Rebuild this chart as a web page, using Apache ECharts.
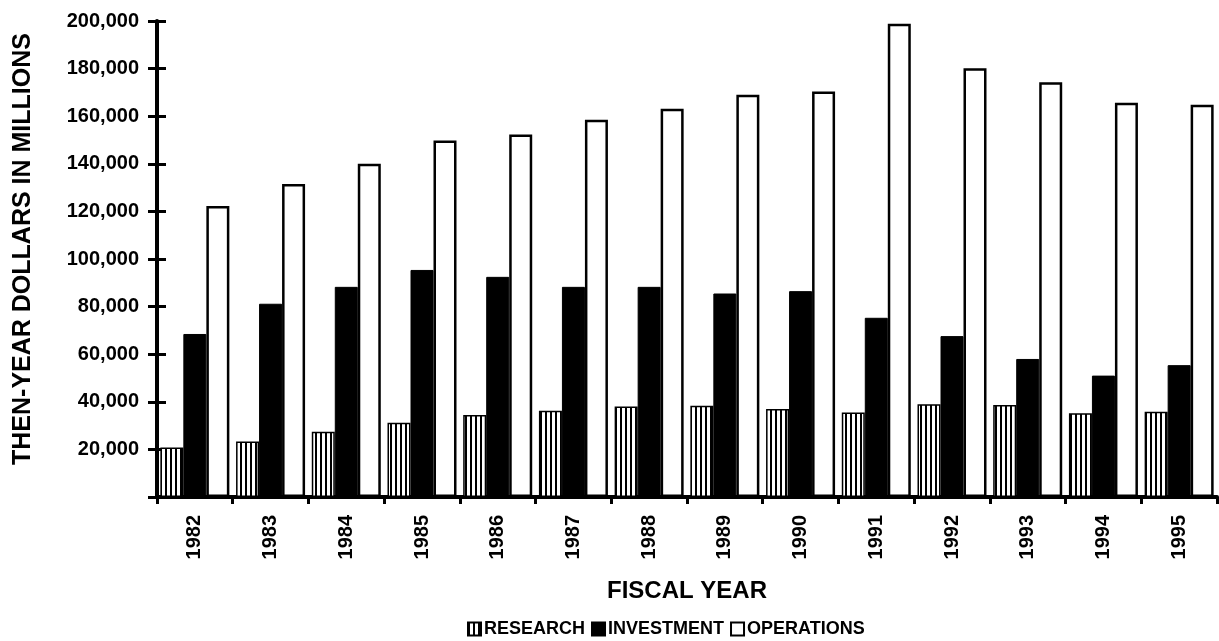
<!DOCTYPE html>
<html><head><meta charset="utf-8">
<script src="https://cdn.jsdelivr.net/npm/echarts@6/dist/echarts.min.js"></script>
<style>html,body{margin:0;padding:0;background:#fff}#c{width:1219px;height:641px}</style>
</head><body><div id="c"></div>
<script>
const years = ['1982','1983','1984','1985','1986','1987','1988','1989','1990','1991','1992','1993','1994','1995'];
const research = [20800, 23300, 27400, 31200, 34500, 36200, 38000, 38300, 37000, 35500, 39000, 38700, 35200, 35800];
const investment = [68500, 81200, 88300, 95400, 92500, 88300, 88300, 85500, 86500, 75300, 67600, 58000, 51000, 55400];
const operations = [122300, 131500, 140000, 149800, 152300, 158500, 163100, 169000, 170400, 198800, 180100, 174300, 165600, 164800];
const seriesNames = ['RESEARCH', 'INVESTMENT', 'OPERATIONS'];

const FONT = '"Liberation Sans", Arial, Helvetica, sans-serif';

const pc = document.createElement('canvas');
pc.width = 5; pc.height = 8;
const pctx = pc.getContext('2d');
pctx.fillStyle = '#fff'; pctx.fillRect(0, 0, 5, 8);
pctx.fillStyle = '#000'; pctx.fillRect(0, 0, 2, 8);
const stripe = { image: pc, repeat: 'repeat' };

const chart = echarts.init(document.getElementById('c'), null, { renderer: 'canvas' });
const yBase = { type: 'value', min: 0, max: 200000, interval: 20000, splitLine: { show: false } };
chart.setOption({
  animation: false,
  backgroundColor: '#fff',
  grid: { left: 157, right: 2, top: 21, bottom: 144 },
  legend: {
    data: seriesNames,
    top: 615, left: 462,
    icon: 'rect',
    itemWidth: 13, itemHeight: 13, itemGap: 6,
    textStyle: { fontFamily: FONT, fontWeight: 'bold', fontSize: 18, color: '#000', padding: [0, 0, 0, -2] }
  },
  xAxis: {
    type: 'category', data: years, boundaryGap: true,
    name: 'FISCAL YEAR', nameLocation: 'middle', nameGap: 82,
    nameTextStyle: { fontFamily: FONT, fontWeight: 'bold', fontSize: 24, color: '#000' },
    axisLine: { lineStyle: { color: '#000', width: 4 } },
    axisTick: { show: true, length: 7, lineStyle: { color: '#000', width: 3 } },
    axisLabel: { rotate: 90, margin: 18, fontFamily: FONT, fontWeight: 'bold', fontSize: 20, color: '#000' }
  },
  yAxis: [
    Object.assign({}, yBase, {
      name: 'THEN-YEAR DOLLARS IN MILLIONS', nameLocation: 'middle', nameGap: 121,
      nameTextStyle: { fontFamily: FONT, fontWeight: 'bold', fontSize: 25, color: '#000', padding: [0, 0, 0, 20] },
      axisLine: { show: true, lineStyle: { color: '#000', width: 4 } },
      axisTick: { show: true, length: 9, lineStyle: { color: '#000', width: 3 } },
      axisLabel: { margin: 18, fontFamily: FONT, fontWeight: 'bold', fontSize: 20, color: '#000',
        formatter: v => v === 0 ? '' : v.toLocaleString('en-US') }
    }),
    Object.assign({}, yBase, {
      position: 'left',
      axisLine: { show: false },
      axisTick: { show: true, inside: true, length: 9, lineStyle: { color: '#000', width: 3 } },
      axisLabel: { show: false }
    })
  ],
  series: [
    { name: seriesNames[0], type: 'bar', data: research, barWidth: 23, barGap: '0%',
      itemStyle: { color: stripe, borderColor: '#000', borderWidth: 1.5 } },
    { name: seriesNames[1], type: 'bar', data: investment, barWidth: 23, barGap: '0%',
      itemStyle: { color: '#000', borderColor: '#000', borderWidth: 1 } },
    { name: seriesNames[2], type: 'bar', data: operations, barWidth: 23, barGap: '0%',
      itemStyle: { color: '#fff', borderColor: '#000', borderWidth: 2.5 } }
  ]
});
</script></body></html>
